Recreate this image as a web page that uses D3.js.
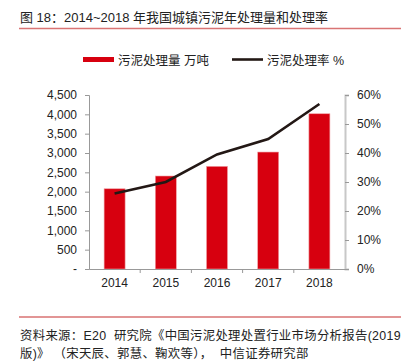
<!DOCTYPE html>
<html><head><meta charset="utf-8">
<script src="https://cdn.jsdelivr.net/npm/d3@7/dist/d3.min.js"></script>
<style>
body{margin:0;background:#fff;}
svg{display:block;font-family:"Liberation Sans","Noto Sans CJK SC",Arial,sans-serif;}
</style></head>
<body><svg id="c" width="401" height="364"></svg>
<script>
const years = ["2014","2015","2016","2017","2018"];
const volume = [2075, 2405, 2655, 3025, 4015];
const rate = [0.26, 0.30, 0.395, 0.448, 0.569];
const leftTicks = [0,500,1000,1500,2000,2500,3000,3500,4000,4500];
const rightTicks = [0,0.1,0.2,0.3,0.4,0.5,0.6];
const titleText = "图 18：2014~2018 年我国城镇污泥年处理量和处理率";
const legendLabels = ["污泥处理量 万吨", "污泥处理率 %"];
const sourceLines = ["资料来源：E20  研究院《中国污泥处理处置行业市场分析报告(2019", "版)》 （宋天辰、郭慧、鞠欢等），  中信证券研究部"];

const svg = d3.select("#c");
const cjk = '"Liberation Sans","Noto Sans CJK SC",sans-serif';

// title
svg.append("text").attr("x",20).attr("y",22).attr("font-size",13).attr("fill","#222")
  .style("font-family",cjk).text(titleText);
svg.append("line").attr("x1",19).attr("x2",401).attr("y1",28.5).attr("y2",28.5)
  .attr("stroke","#d97474").attr("stroke-width",1.5);

const L=89, R=345, T=95, B=269;
const x = d3.scaleBand().domain(years).range([L,R]).paddingInner(0.59).paddingOuter(0.295);
const yL = d3.scaleLinear().domain([0,4500]).range([B,T]);
const yR = d3.scaleLinear().domain([0,0.6]).range([B,T]);

// bars
svg.append("g").selectAll("rect").data(years).join("rect")
  .attr("x",d=>x(d)).attr("width",x.bandwidth())
  .attr("y",(d,i)=>yL(volume[i])).attr("height",(d,i)=>B-yL(volume[i]))
  .attr("fill","#d7000f").attr("stroke","#f0a0a5").attr("stroke-width",0.6);

// left axis
const gl = svg.append("g").attr("transform",`translate(${L},0)`)
  .call(d3.axisLeft(yL).tickValues(leftTicks).tickSize(4).tickPadding(8)
    .tickFormat(d=>d===0?"-":d3.format(",")(d)));
gl.select(".domain").attr("stroke","#999");
gl.selectAll(".tick line").attr("stroke","#999");
gl.selectAll("text").attr("font-size",12).attr("fill","#222").style("font-family",'"Liberation Sans",Arial,sans-serif');

// right axis
const gr = svg.append("g").attr("transform",`translate(${R},0)`)
  .call(d3.axisRight(yR).tickValues(rightTicks).tickSize(4).tickPadding(8)
    .tickFormat(d3.format(".0%")));
gr.select(".domain").attr("stroke","#c8c8c8").attr("stroke-width",2);
gr.selectAll(".tick line").attr("stroke","#999");
gr.selectAll("text").attr("font-size",12).attr("fill","#222").style("font-family",'"Liberation Sans",Arial,sans-serif');

// bottom axis
const gb = svg.append("g").attr("transform",`translate(0,${B})`)
  .call(d3.axisBottom(x).tickSize(0).tickPadding(9));
gb.select(".domain").attr("stroke","#999");
gb.selectAll("text").attr("font-size",12).attr("fill","#222").style("font-family",'"Liberation Sans",Arial,sans-serif');
const step = x.step();
svg.append("g").selectAll("line").data(years.slice(1)).join("line")
  .attr("x1",d=>x(d)-x.paddingInner()*step/2).attr("x2",d=>x(d)-x.paddingInner()*step/2)
  .attr("y1",B).attr("y2",B+4).attr("stroke","#999");

// line
const line = d3.line().x((d,i)=>x(years[i])+x.bandwidth()/2).y(d=>yR(d));
svg.append("path").datum(rate).attr("d",line).attr("fill","none")
  .attr("stroke","#231815").attr("stroke-width",2.6);

// legend
svg.append("rect").attr("x",83).attr("y",57).attr("width",31).attr("height",5).attr("fill","#d7000f");
svg.append("text").attr("x",118).attr("y",64.5).attr("font-size",12.5).attr("fill","#222")
  .style("font-family",cjk).text(legendLabels[0]);
svg.append("line").attr("x1",232).attr("x2",263).attr("y1",59.5).attr("y2",59.5)
  .attr("stroke","#231815").attr("stroke-width",2.6);
svg.append("text").attr("x",267).attr("y",64.5).attr("font-size",12.5).attr("fill","#222")
  .style("font-family",cjk).text(legendLabels[1]);

// footer
svg.append("line").attr("x1",19).attr("x2",401).attr("y1",317).attr("y2",317)
  .attr("stroke","#e29595").attr("stroke-width",2);
sourceLines.forEach((t,i)=>{
  svg.append("text").attr("x",20).attr("y",339.5+i*18).attr("font-size",12.4).attr("fill","#222")
    .attr("letter-spacing",0.3)
    .style("font-family",cjk).style("white-space","pre").attr("xml:space","preserve").text(t);
});
</script></body></html>
